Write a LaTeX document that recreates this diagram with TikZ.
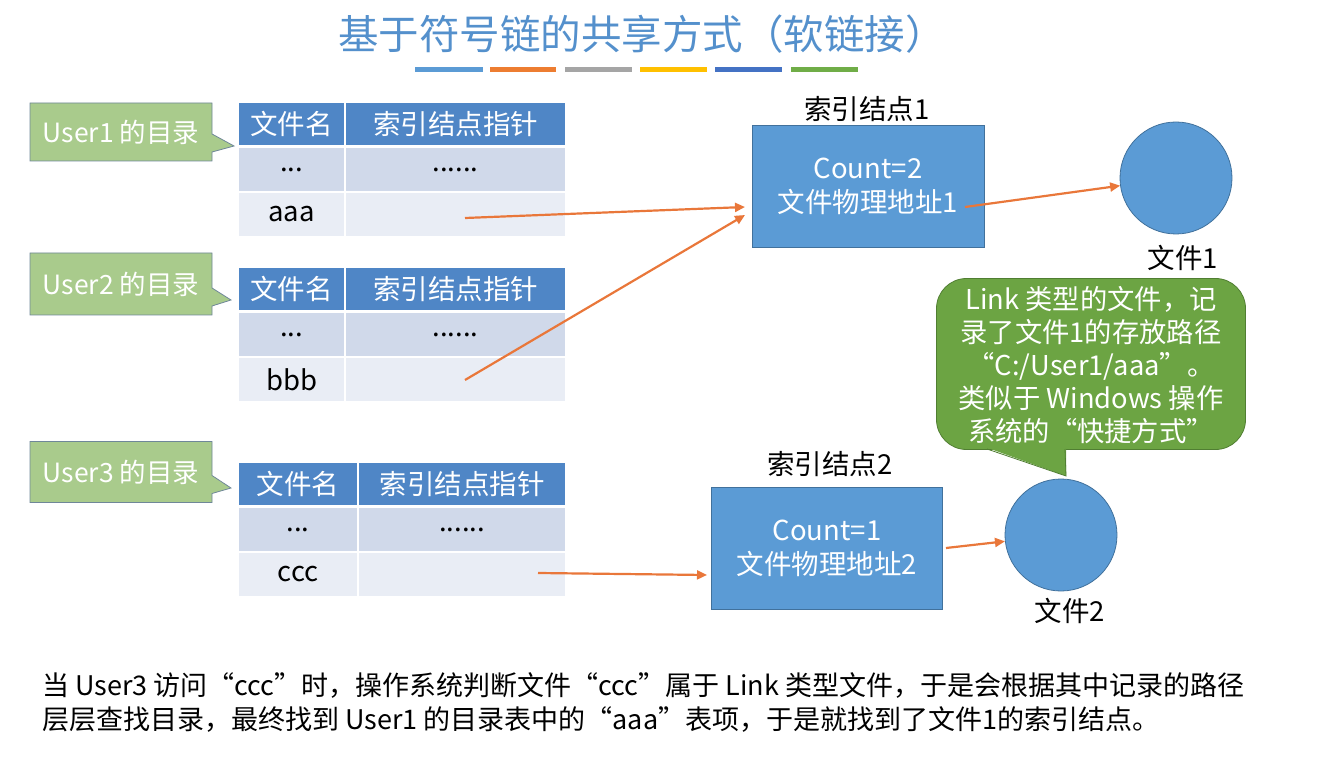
\documentclass[tikz,border=0pt]{standalone}
\usepackage{fontspec}
\setmainfont{Noto Sans CJK SC}
\usetikzlibrary{arrows.meta,shapes.callouts}
\definecolor{hdrblue}{HTML}{4F86C6}
\definecolor{rowa}{HTML}{D0D9EA}
\definecolor{rowb}{HTML}{E9EDF5}
\definecolor{boxblue}{HTML}{5B9BD5}
\definecolor{boxedge}{HTML}{41719C}
\definecolor{lblgreen}{HTML}{A9CB8C}
\definecolor{lbledge}{HTML}{6F8799}
\definecolor{bubgreen}{HTML}{6CA443}
\definecolor{bubedge}{HTML}{507E32}
\definecolor{arrorange}{HTML}{E9773A}
\definecolor{titleblue}{HTML}{5490CC}
\definecolor{barA}{HTML}{5B9BD5}
\definecolor{barB}{HTML}{ED7D31}
\definecolor{barC}{HTML}{A5A5A5}
\definecolor{barD}{HTML}{FFC000}
\definecolor{barE}{HTML}{4472C4}
\definecolor{barF}{HTML}{70AD47}
\begin{document}
\begin{tikzpicture}[x=1pt,y=-1pt,
  f26/.style={font=\fontsize{27.5}{32}\selectfont},
  cellbase/.style={draw=white,line width=2pt,inner sep=0pt,anchor=north west,f26},
  hdr/.style={cellbase,fill=hdrblue,text=white},
  rowone/.style={cellbase,fill=rowa,text=black},
  rowtwo/.style={cellbase,fill=rowb,text=black},
  ulabel/.style={rectangle callout,fill=lblgreen,draw=lbledge,line width=0.8pt,
     text=white,font=\fontsize{26.5}{32}\selectfont,minimum width=182pt,inner sep=0pt,callout pointer width=18pt},
  ibox/.style={rectangle,fill=boxblue,draw=boxedge,line width=0.8pt,text=white,
     minimum width=232pt,minimum height=122pt,inner sep=0pt,align=center,
     font=\fontsize{27.5}{34}\selectfont},
  filec/.style={circle,fill=boxblue,draw=boxedge,line width=0.8pt,minimum size=112pt,inner sep=0pt},
  lbl/.style={text=black,f26,inner sep=0pt},
  arr/.style={draw=arrorange,line width=2.2pt,-{Triangle[length=10pt,width=9pt]}},
  bar/.style={line width=5pt}
]
\useasboundingbox (0,0) rectangle (1342,759);

% title
\node[text=titleblue,font=\fontsize{40.5}{46}\selectfont,inner sep=0pt] (title) at (642,34) {基于符号链的共享方式（软链接）};
\draw[bar,barA] (415,70) -- (483,70);
\draw[bar,barB] (490,70) -- (556,70);
\draw[bar,barC] (565,70) -- (632,70);
\draw[bar,barD] (640,70) -- (707,70);
\draw[bar,barE] (715,70) -- (782,70);
\draw[bar,barF] (791,70) -- (858,70);

% user labels
\node[ulabel,minimum height=58pt,callout absolute pointer={(234,146)}] (u1) at (121,132) {User1 的目录};
\node[ulabel,minimum height=62pt,callout absolute pointer={(231,300)}] (u2) at (121,284) {User2 的目录};
\node[ulabel,minimum height=61pt,callout absolute pointer={(231,488)}] (u3) at (121,472) {User3 的目录};

% table 1
\node[hdr,minimum width=107pt,minimum height=44pt] (t1a) at (237,101) {文件名};
\node[hdr,minimum width=221pt,minimum height=44pt] (t1b) at (344,101) {索引结点指针};
\node[rowone,minimum width=107pt,minimum height=45pt] (t1c) at (237,146) {...};
\node[rowone,minimum width=221pt,minimum height=45pt] (t1d) at (344,146) {......};
\node[rowtwo,minimum width=107pt,minimum height=45pt] (t1e) at (237,191) {aaa};
\node[rowtwo,minimum width=221pt,minimum height=45pt] (t1f) at (344,191) {};

% table 2
\node[hdr,minimum width=107pt,minimum height=44pt] (t2a) at (237,266) {文件名};
\node[hdr,minimum width=221pt,minimum height=44pt] (t2b) at (344,266) {索引结点指针};
\node[rowone,minimum width=107pt,minimum height=45pt] (t2c) at (237,311) {...};
\node[rowone,minimum width=221pt,minimum height=45pt] (t2d) at (344,311) {......};
\node[rowtwo,minimum width=107pt,minimum height=45pt] (t2e) at (237,356) {bbb};
\node[rowtwo,minimum width=221pt,minimum height=45pt] (t2f) at (344,356) {};

% table 3
\node[hdr,minimum width=120pt,minimum height=44pt] (t3a) at (237,461) {文件名};
\node[hdr,minimum width=208pt,minimum height=44pt] (t3b) at (357,461) {索引结点指针};
\node[rowone,minimum width=120pt,minimum height=45pt] (t3c) at (237,506) {...};
\node[rowone,minimum width=208pt,minimum height=45pt] (t3d) at (357,506) {......};
\node[rowtwo,minimum width=120pt,minimum height=45pt] (t3e) at (237,551) {ccc};
\node[rowtwo,minimum width=208pt,minimum height=45pt] (t3f) at (357,551) {};

% index nodes
\node[ibox] (ib1) at (868,186) {Count=2\\文件物理地址1};
\node[lbl] (ib1l) at (867,109) {索引结点1};
\node[ibox,minimum width=231pt] (ib2) at (827,548) {Count=1\\文件物理地址2};
\node[lbl] (ib2l) at (830,464) {索引结点2};

% files
\node[filec] (f1) at (1176,178) {};
\node[lbl] (f1l) at (1183,258) {文件1};
\node[filec] (f2) at (1061,535) {};
\node[lbl] (f2l) at (1070,611) {文件2};

% speech bubble
\node[rectangle,rounded corners=30pt,fill=bubgreen,draw=bubedge,line width=0.8pt,
      minimum width=309pt,minimum height=171pt,inner sep=0pt] (bub) at (1091,364) {};
\coordinate (tl) at (987,449);
\coordinate (tr) at (1065,449);
\coordinate (tip) at (1066,476);
\fill[bubgreen] (985,447) -- (tip) -- (1066,447) -- cycle;
\draw[bubedge,line width=0.8pt] (tl) -- (tip) -- (tr);
\node[text=white,align=center,inner sep=0pt,font=\fontsize{27.3}{33}\selectfont] (bubt) at (1091,365)
  {Link 类型的文件，记\\录了文件1的存放路径\\“C:/User1/aaa”。\\类似于 Windows 操作\\系统的“快捷方式”};

% connectors
\coordinate (s1) at (465,218);
\coordinate (e1) at (745,207);
\coordinate (s2) at (465,380);
\coordinate (e2) at (745,215);
\coordinate (s3) at (965,207);
\coordinate (s4) at (538,573);
\coordinate (e4) at (707,575);
\coordinate (s5) at (946,548);
\draw[arr] (s1) -- (e1);
\draw[arr] (s2) -- (e2);
\draw[arr] (s3) -- (f1);
\draw[arr] (s4) -- (e4);
\draw[arr] (s5) -- (f2);

% bottom text
\node[anchor=west,text=black,inner sep=0pt,align=left,font=\fontsize{27}{34}\selectfont] (note) at (42,703)
  {当 User3 访问“ccc”时，操作系统判断文件“ccc”属于 Link 类型文件，于是会根据其中记录的路径\\层层查找目录，最终找到 User1 的目录表中的“aaa”表项，于是就找到了文件1的索引结点。};
\end{tikzpicture}
\end{document}
